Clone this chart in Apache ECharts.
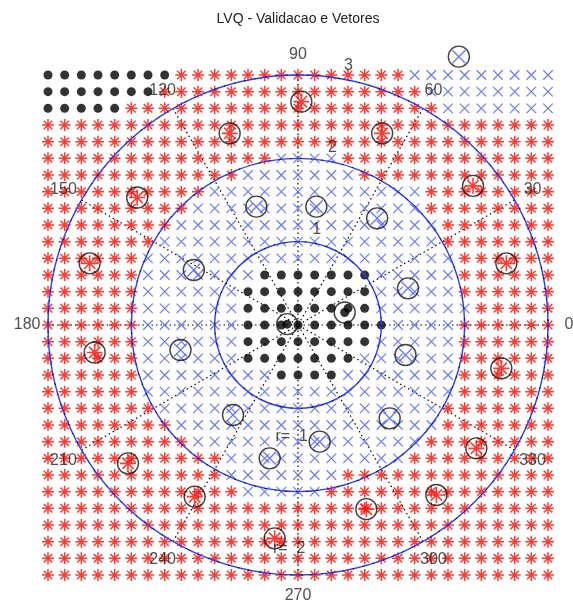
<!DOCTYPE html>
<html>
<head>
<meta charset="utf-8">
<title>LVQ - Validacao e Vetores</title>
<script src="https://cdn.jsdelivr.net/npm/echarts@6/dist/echarts.min.js"></script>
<style>
  html, body { margin: 0; padding: 0; background: #ffffff; }
  #chart { width: 573px; height: 608px; }
</style>
</head>
<body>
<div id="chart"></div>
<script>
// Validation grid: x / y positions of the sample points
const gridTicks = [-3, -2.8, -2.6, -2.4, -2.2, -2, -1.8, -1.6, -1.4, -1.2, -1, -0.8, -0.6, -0.4, -0.2, 0,
                   0.2, 0.4, 0.6, 0.8, 1, 1.2, 1.4, 1.6, 1.8, 2, 2.2, 2.4, 2.6, 2.8, 3];

// Class assigned to every grid point, one row per y (top row is y = 3),
// run-length coded: k = class 1 (black dots), b = class 2 (blue x), r = class 3 (red *)
const classRows = [
  "8k 14r 9b",
  "7k 16r 8b",
  "5k 19r 7b",
  "31r",
  "31r",
  "14r 4b 13r",
  "12r 7b 12r",
  "10r 13b 8r",
  "9r 14b 8r",
  "8r 16b 7r",
  "7r 17b 7r",
  "6r 19b 6r",
  "6r 7b 7k 5b 6r",
  "6r 6b 8k 5b 6r",
  "6r 6b 8k 6b 5r",
  "6r 6b 9k 4b 6r",
  "6r 6b 8k 5b 6r",
  "6r 6b 7k 6b 6r",
  "6r 8b 4k 7b 6r",
  "6r 19b 6r",
  "7r 17b 7r",
  "8r 16b 7r",
  "9r 14b 8r",
  "11r 11b 9r",
  "11r 7b 13r",
  "12r 5b 14r",
  "31r",
  "31r",
  "31r",
  "31r",
  "31r"
];

// Codebook vectors (prototypes) of each class
const protoClass1 = [[-0.13, 0.01], [0.56, 0.15]];
const protoClass2 = [[-0.50, 1.42], [0.22, 1.42], [0.95, 1.28], [-1.25, 0.66], [1.32, 0.44],
                     [-1.41, -0.30], [1.29, -0.36], [-0.78, -1.08], [1.10, -1.12], [0.26, -1.40],
                     [-0.34, -1.60], [1.93, 3.22]];
const protoClass3 = [[0.04, 2.68], [-0.82, 2.30], [1.01, 2.30], [-1.93, 1.53], [2.10, 1.67],
                     [-2.50, 0.74], [2.50, 0.74], [-2.44, -0.33], [2.44, -0.52], [-2.04, -1.66],
                     [2.14, -1.48], [-1.24, -2.06], [1.66, -2.04], [0.82, -2.21], [-0.28, -2.56]];

// Polar grid labels
const angleTicks = [0, 30, 60, 90, 120, 150, 180, 210, 240, 270, 300, 330];
const radiusTicks = [1, 2, 3];
const annotations = [
  { text: 'r=  1', x: -0.27, y: -1.34 },
  { text: 'r=  2', x: -0.30, y: -2.68 }
];
const titleText = 'LVQ - Validacao e Vetores';

// ---------------------------------------------------------------------------
const FONT = '"Liberation Sans", Arial, sans-serif';
const RMAX = 3;
const ANGLE_LABEL_R = 3.25;

function expandRow(spec) {
  const out = [];
  spec.split(' ').forEach(tok => {
    const n = parseInt(tok, 10);
    const c = tok.slice(-1);
    for (let i = 0; i < n; i++) out.push(c);
  });
  return out;
}

const pts = { k: [], b: [], r: [] };
classRows.forEach((spec, i) => {
  const y = gridTicks[gridTicks.length - 1 - i];
  expandRow(spec).forEach((c, j) => pts[c].push([gridTicks[j], y]));
});

const deg = Math.PI / 180;
const angleLabelData = angleTicks.map(a => ({
  value: [ANGLE_LABEL_R * Math.cos(a * deg), ANGLE_LABEL_R * Math.sin(a * deg)],
  name: String(a)
}));
const radiusLabelData = radiusTicks.map(r => ({
  value: [(r + 0.17) * Math.cos(79 * deg), (r + 0.17) * Math.sin(79 * deg)],
  name: String(r)
}));

const ASTERISK = 'path://M10,0L10,20M0,10L20,10M2.93,2.93L17.07,17.07M2.93,17.07L17.07,2.93';
const CROSS = 'path://M0,0L10,10M0,10L10,0';
const RED = '#ff0a00';
const BLUE = '#4256ff';

const textSeries = (id, data, size, align) => ({
  id, type: 'scatter', data, symbolSize: 0, silent: true, clip: false, z: 20,
  label: {
    show: true, position: 'inside', formatter: p => p.name, color: '#222',
    fontFamily: FONT, fontSize: size, align: align || 'center', verticalAlign: 'middle'
  }
});

const hiddenAxis = { axisLine: { show: false }, axisTick: { show: false }, axisLabel: { show: false } };

const chart = echarts.init(document.getElementById('chart'), null, { renderer: 'canvas' });
chart.setOption({
  animation: false,
  backgroundColor: '#ffffff',
  graphic: [{
    type: 'text', x: 298, y: 19, z: 30,
    style: { text: titleText, fill: '#222', font: '14px ' + FONT, textAlign: 'center', textVerticalAlign: 'middle' }
  }],
  grid: { left: 23, top: 50, width: 550, height: 550, show: false },
  xAxis: { type: 'value', min: -3.3, max: 3.3, show: false },
  yAxis: { type: 'value', min: -3.3, max: 3.3, show: false },
  polar: [
    { center: [298, 325], radius: 250 },
    { center: [298, 325], radius: 250 }
  ],
  angleAxis: [
    Object.assign({
      polarIndex: 0, type: 'value', min: 0, max: 360, interval: 30, startAngle: 0, clockwise: false, z: 1,
      splitLine: { show: true, lineStyle: { color: '#000', width: 1.2, type: [1.5, 3] } }
    }, hiddenAxis),
    Object.assign({
      polarIndex: 1, type: 'value', min: 0, max: 360, interval: 30, startAngle: 0, clockwise: false,
      splitLine: { show: false }
    }, hiddenAxis)
  ],
  radiusAxis: [
    Object.assign({
      polarIndex: 0, type: 'value', min: 0, max: RMAX, interval: 1, z: 10,
      splitLine: { show: true, lineStyle: { color: '#2a3dff', width: 1.4 } }
    }, hiddenAxis),
    Object.assign({
      polarIndex: 1, type: 'value', min: 0, max: RMAX, interval: 1, z: 11,
      splitLine: { show: true, lineStyle: { color: '#000', width: 1, type: [1.5, 9] } }
    }, hiddenAxis)
  ],
  series: [
    {
      id: 'class3', type: 'scatter', data: pts.r, symbol: ASTERISK, symbolSize: 12, silent: true, z: 2,
      itemStyle: { color: 'rgba(0,0,0,0)', borderColor: RED, borderWidth: 1.5 }
    },
    {
      id: 'class2', type: 'scatter', data: pts.b, symbol: CROSS, symbolSize: 9.5, silent: true, z: 2,
      itemStyle: { color: 'rgba(0,0,0,0)', borderColor: BLUE, borderWidth: 1.15 }
    },
    {
      id: 'class1', type: 'scatter', data: pts.k, symbol: 'circle', symbolSize: 9, silent: true, z: 2,
      itemStyle: { color: '#000' }
    },
    {
      id: 'proto3', type: 'scatter', data: protoClass3, symbol: ASTERISK, symbolSize: 16, silent: true, z: 4,
      itemStyle: { color: 'rgba(0,0,0,0)', borderColor: RED, borderWidth: 1.6 }
    },
    {
      id: 'proto2', type: 'scatter', data: protoClass2, symbol: CROSS, symbolSize: 13, silent: true, z: 4, clip: false,
      itemStyle: { color: 'rgba(0,0,0,0)', borderColor: BLUE, borderWidth: 1.3 }
    },
    {
      id: 'proto1', type: 'scatter', data: protoClass1, symbol: 'circle', symbolSize: 9, silent: true, z: 4,
      itemStyle: { color: '#000' }
    },
    {
      id: 'protoRings', type: 'scatter', data: protoClass1.concat(protoClass2, protoClass3),
      symbol: 'circle', symbolSize: 21, silent: true, z: 5, clip: false,
      itemStyle: { color: 'rgba(0,0,0,0)', borderColor: '#111', borderWidth: 1.4 }
    },
    textSeries('angleLabels', angleLabelData, 16),
    textSeries('radiusLabels', radiusLabelData, 16),
    textSeries('notes', annotations.map(a => ({ value: [a.x, a.y], name: a.text })), 16, 'left')
  ]
});
</script>
</body>
</html>
